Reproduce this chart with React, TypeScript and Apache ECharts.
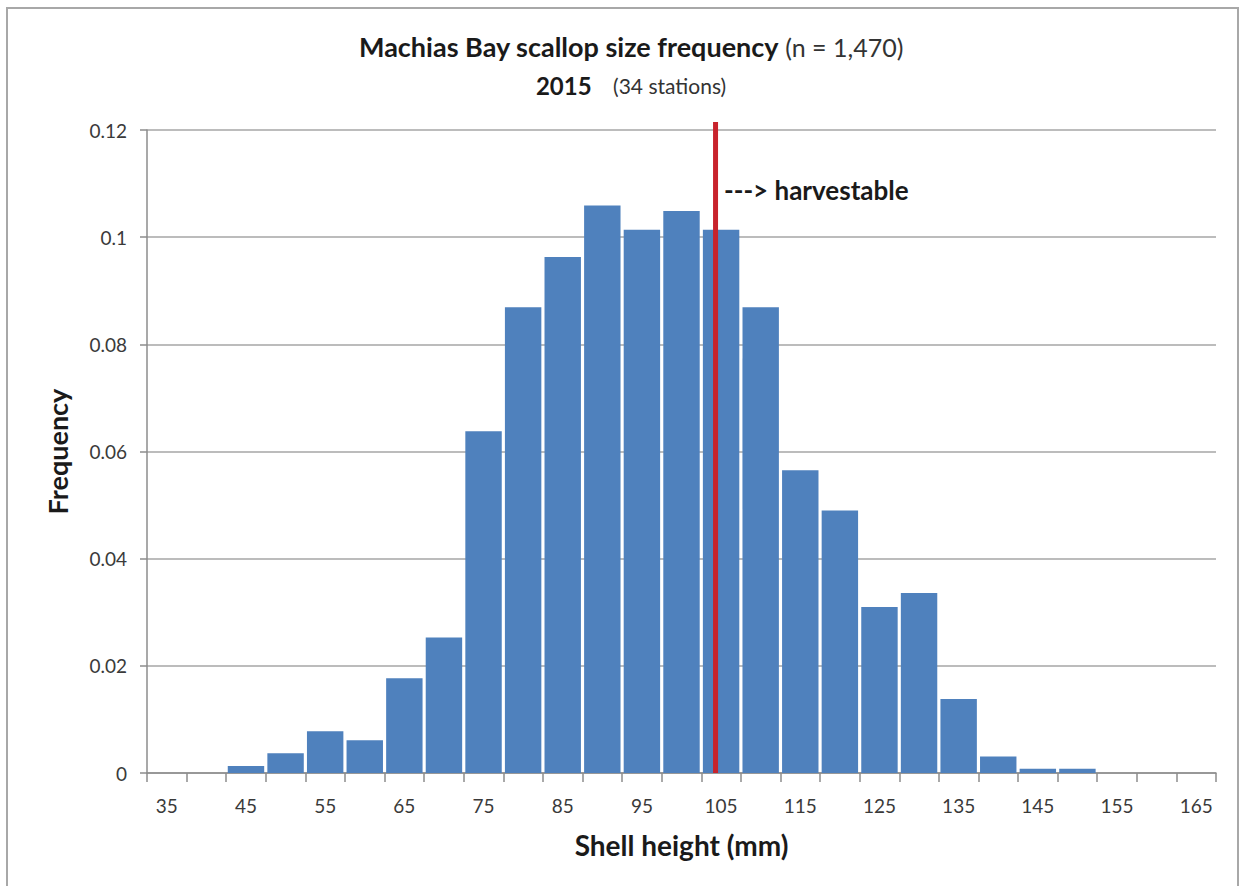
import React, { useEffect, useRef } from "react";
import * as echarts from "echarts";

const sizeClasses = ["35","40","45","50","55","60","65","70","75","80","85","90","95","100","105","110","115","120","125","130","135","140","145","150","155","160","165"];
const frequencies = [0, 0, 0.0013, 0.0037, 0.0078, 0.0061, 0.0177, 0.0253, 0.0638, 0.0869, 0.0963, 0.1059, 0.1014, 0.1049, 0.1014, 0.0869, 0.0565, 0.049, 0.031, 0.0336, 0.0138, 0.0031, 0.0008, 0.0008, 0, 0, 0];
const yTicks = [0, 0.02, 0.04, 0.06, 0.08, 0.1, 0.12];
const harvestLimit = 104.3; // mm, position of the red line
const harvestLineTop = 0.1215;
const xRange = [32.5, 167.5];

const FONT = "Lato, 'Open Sans', sans-serif";

export default function App() {
  const ref = useRef<HTMLDivElement>(null);
  useEffect(() => {
    if (!ref.current) return;
    const chart = echarts.init(ref.current, undefined, { renderer: "svg" });
    chart.setOption({
      animation: false,
      backgroundColor: "#ffffff",
      textStyle: { fontFamily: FONT },
      title: {
        left: 626,
        top: 22,
        textAlign: "center",
        text: "{b|Machias Bay scallop size frequency}{n| (n = 1,470)}\n{b2|2015}{s|    (34 stations)}",
        textStyle: {
          rich: {
            b: { fontFamily: FONT, fontWeight: "bold", fontSize: 27, color: "#1a1a1a", lineHeight: 39 },
            n: { fontFamily: FONT, fontWeight: "normal", fontSize: 25, color: "#333333", lineHeight: 39 },
            b2: { fontFamily: FONT, fontWeight: "bold", fontSize: 24, color: "#1a1a1a", lineHeight: 39 },
            s: { fontFamily: FONT, fontWeight: "normal", fontSize: 21, color: "#333333", lineHeight: 39 },
          },
        },
      },
      graphic: [
        {
          type: "rect",
          shape: { x: 7, y: 8, width: 1231, height: 900 },
          style: { fill: "none", stroke: "#a8a8a8", lineWidth: 2 },
          silent: true,
          z: -10,
        },
        {
          type: "text",
          left: 724,
          top: 177,
          style: { text: "---> harvestable", font: `bold 26px ${FONT}`, fill: "#1a1a1a" },
        },
      ],
      grid: { left: 147, right: 26, top: 130, bottom: 113 },
      xAxis: [
        {
          type: "category",
          data: sizeClasses,
          boundaryGap: true,
          name: "Shell height (mm)",
          nameLocation: "middle",
          nameGap: 58,
          nameTextStyle: { fontFamily: FONT, fontWeight: "bold", fontSize: 28, color: "#1a1a1a" },
          axisLine: { lineStyle: { color: "#8c8c8c", width: 1.5 } },
          axisTick: { show: true, interval: 0, length: 9, lineStyle: { color: "#8c8c8c", width: 1.5 } },
          axisLabel: { interval: 1, margin: 23, fontSize: 19, color: "#3a3a3a", fontFamily: FONT },
          splitLine: { show: false },
        },
        {
          type: "value",
          min: xRange[0],
          max: xRange[1],
          show: false,
          position: "bottom",
        },
      ],
      yAxis: {
        type: "value",
        min: 0,
        max: 0.12,
        interval: 0.02,
        name: "Frequency",
        nameLocation: "middle",
        nameGap: 76,
        nameRotate: 90,
        nameTextStyle: { fontFamily: FONT, fontWeight: "bold", fontSize: 27, color: "#1a1a1a" },
        axisLine: { show: true, lineStyle: { color: "#8c8c8c", width: 1.5 } },
        axisTick: { show: true, length: 7, lineStyle: { color: "#8c8c8c", width: 1.5 } },
        axisLabel: {
          margin: 20,
          fontSize: 19,
          color: "#3a3a3a",
          fontFamily: FONT,
          formatter: (v: number) => (yTicks.includes(Math.round(v * 100) / 100) ? String(Math.round(v * 100) / 100) : ""),
        },
        splitLine: { show: true, lineStyle: { color: "#a6a6a6", width: 1.5 } },
      },
      series: [
        {
          type: "bar",
          xAxisIndex: 0,
          data: frequencies,
          barCategoryGap: "8%",
          itemStyle: { color: "#4f81bd" },
        },
        {
          type: "line",
          xAxisIndex: 1,
          data: [
            [harvestLimit, 0],
            [harvestLimit, harvestLineTop],
          ],
          clip: false,
          symbol: "none",
          lineStyle: { color: "#c8232c", width: 5 },
          z: 5,
        },
      ],
    });
    return () => chart.dispose();
  }, []);
  return (
    <div
      ref={ref}
      style={{ position: "fixed", left: 0, top: 0, width: 1242, height: 886, background: "#fff" }}
    />
  );
}
